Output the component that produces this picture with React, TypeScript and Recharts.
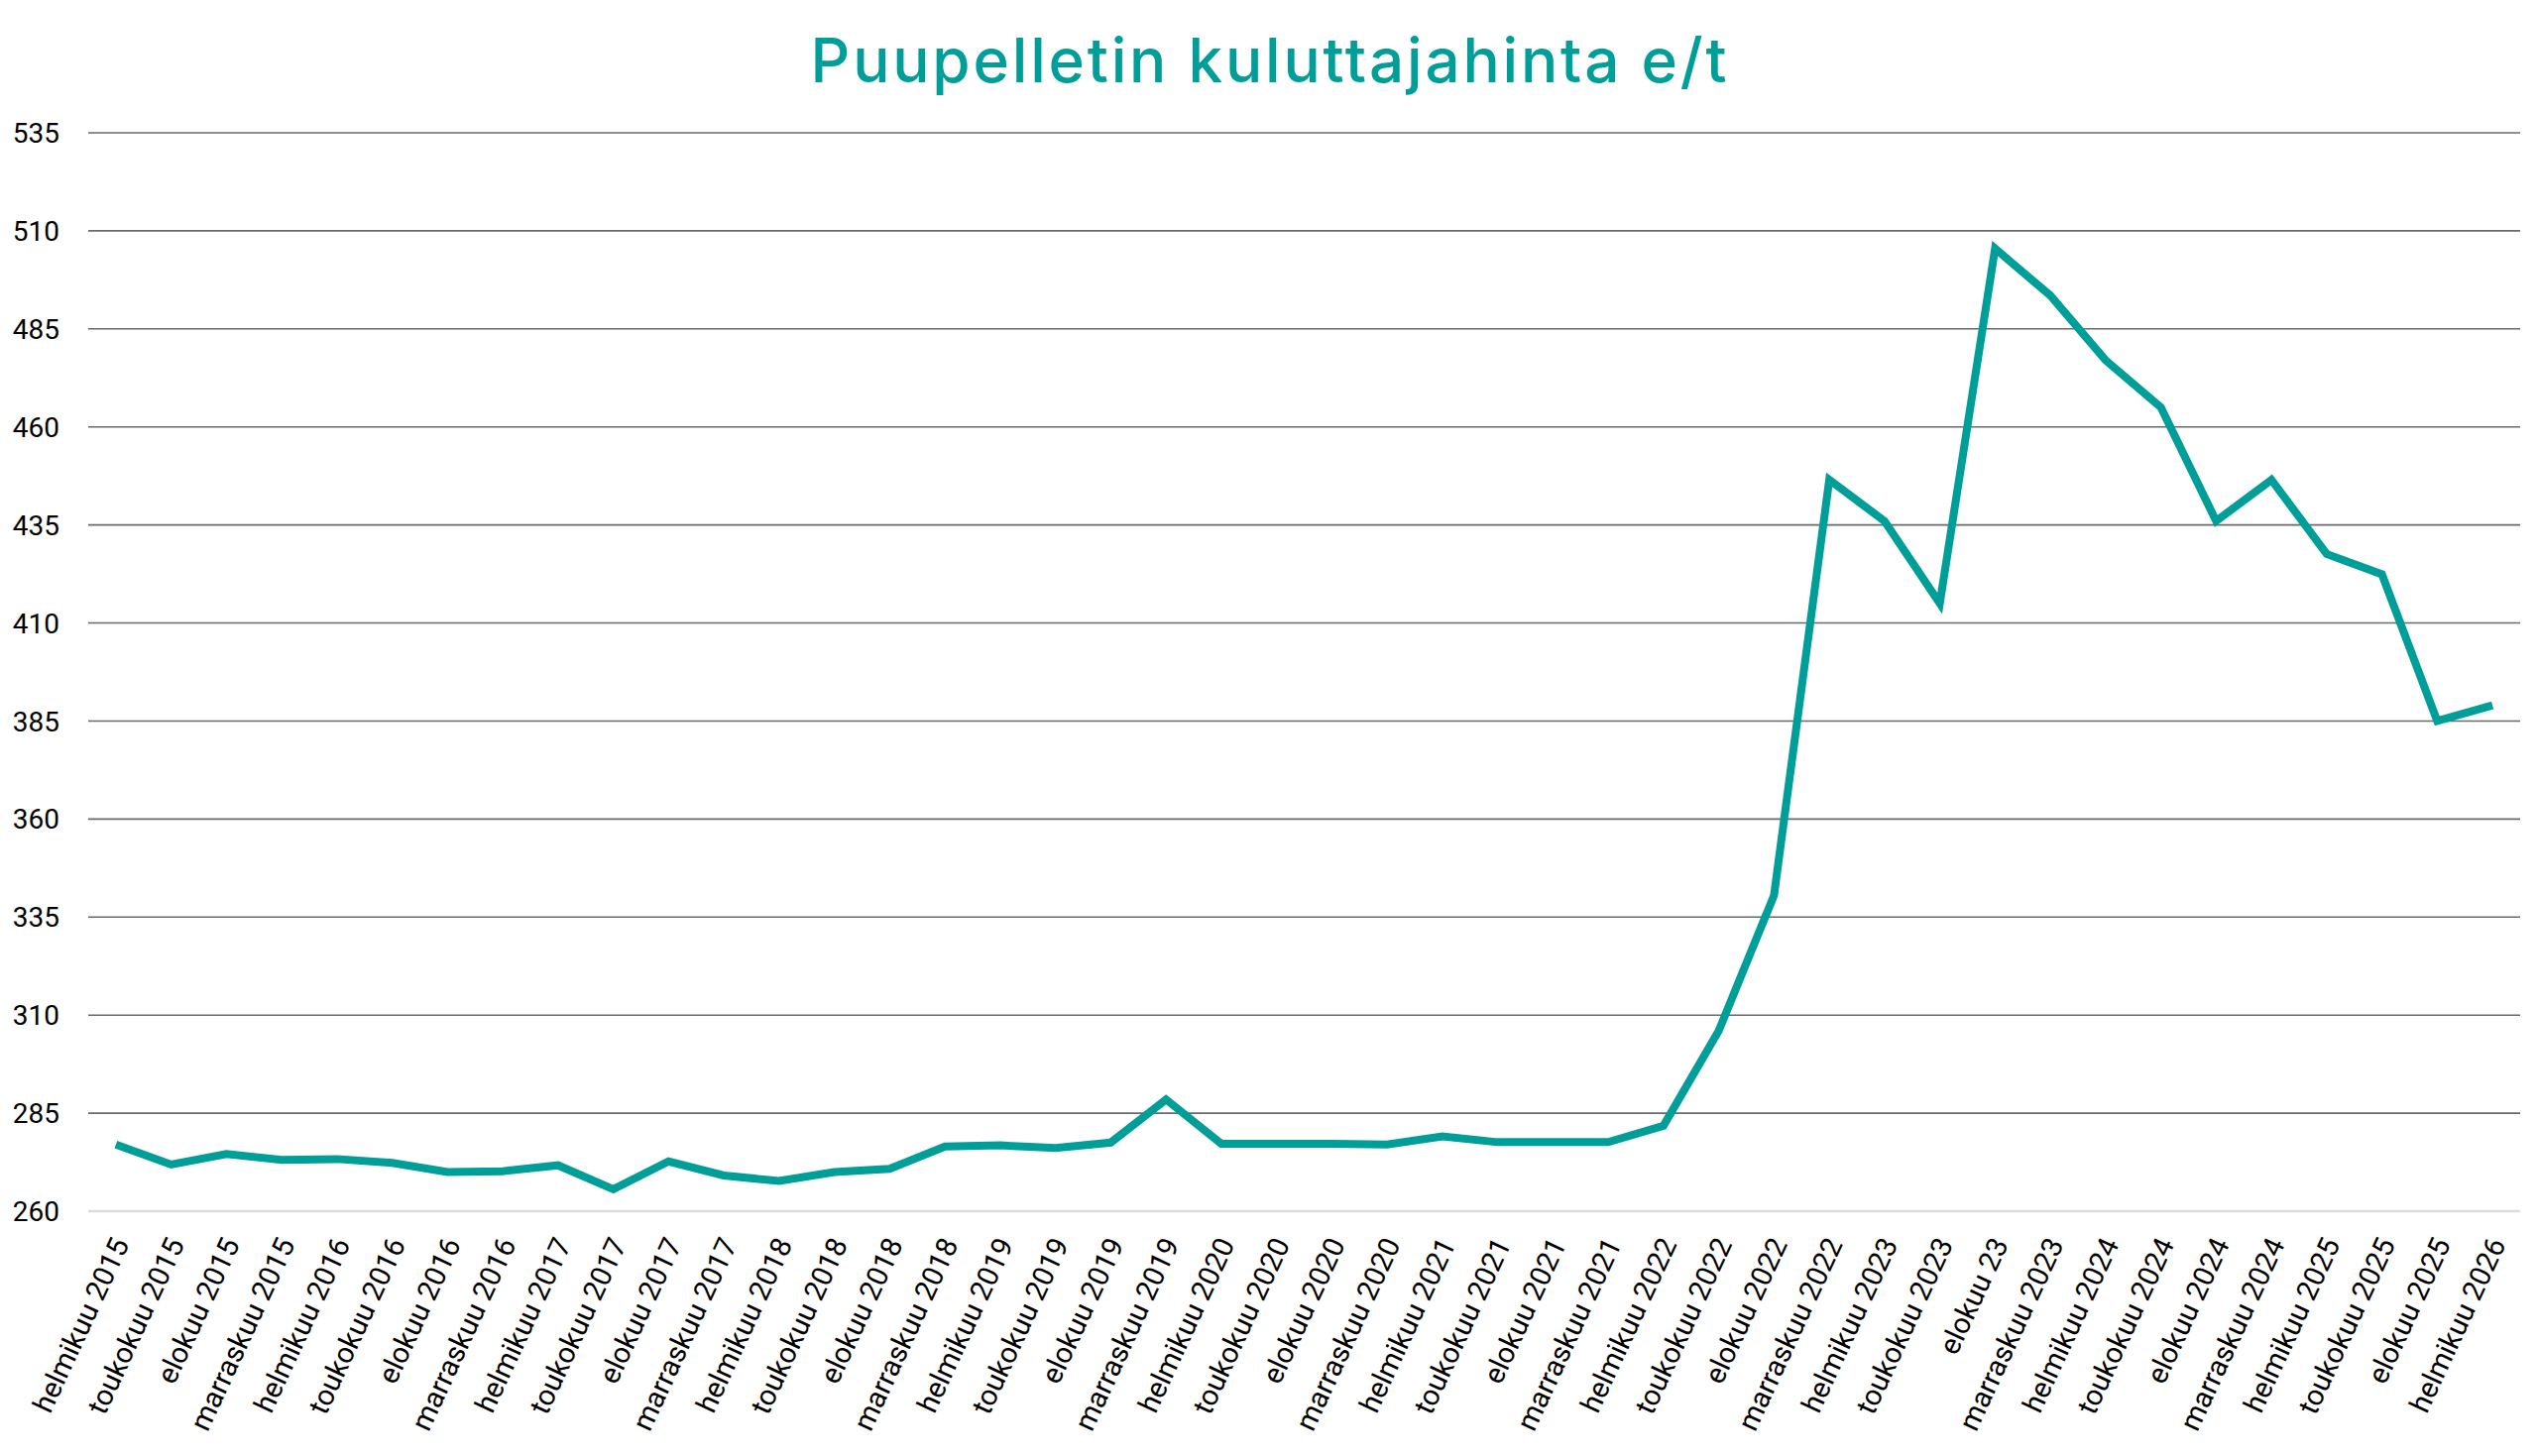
import React from 'react';
import { LineChart, Line, XAxis, YAxis, CartesianGrid } from 'recharts';

const categories: string[] = [
  'helmikuu 2015', 'toukokuu 2015', 'elokuu 2015', 'marraskuu 2015',
  'helmikuu 2016', 'toukokuu 2016', 'elokuu 2016', 'marraskuu 2016',
  'helmikuu 2017', 'toukokuu 2017', 'elokuu 2017', 'marraskuu 2017',
  'helmikuu 2018', 'toukokuu 2018', 'elokuu 2018', 'marraskuu 2018',
  'helmikuu 2019', 'toukokuu 2019', 'elokuu 2019', 'marraskuu 2019',
  'helmikuu 2020', 'toukokuu 2020', 'elokuu 2020', 'marraskuu 2020',
  'helmikuu 2021', 'toukokuu 2021', 'elokuu 2021', 'marraskuu 2021',
  'helmikuu 2022', 'toukokuu 2022', 'elokuu 2022', 'marraskuu 2022',
  'helmikuu 2023', 'toukokuu 2023', 'elokuu 23', 'marraskuu 2023',
  'helmikuu 2024', 'toukokuu 2024', 'elokuu 2024', 'marraskuu 2024',
  'helmikuu 2025', 'toukokuu 2025', 'elokuu 2025', 'helmikuu 2026',
];

const prices: number[] = [
  277.0, 271.9, 274.6, 273.1,
  273.3, 272.3, 270.0, 270.2,
  271.7, 265.6, 272.7, 269.1,
  267.7, 270.0, 270.8, 276.5,
  276.8, 276.1, 277.5, 288.5,
  277.2, 277.2, 277.2, 277.0,
  279.1, 277.6, 277.6, 277.6,
  281.8, 306.0, 340.5, 446.5,
  436.0, 415.0, 505.5, 493.5,
  477.0, 465.0, 436.0, 446.5,
  427.6, 422.4, 385.0, 389.0,
];

const yTicks: number[] = [260, 285, 310, 335, 360, 385, 410, 435, 460, 485, 510, 535];

const title = 'Puupelletin kuluttajahinta e/t';

const data = categories.map((c, i) => ({ name: c, value: prices[i] }));

const TEAL = '#009E98';

const YTick = (props: any) => {
  const { y, payload } = props;
  return (
    <text x={60} y={y} dy="0.36em" textAnchor="end" fontSize={28} fill="#000" fontFamily="Roboto">
      {payload.value}
    </text>
  );
};

const XTick = (props: any) => {
  const { x, payload } = props;
  const tx = x + 14;
  const ty = 1255;
  return (
    <text
      x={tx}
      y={ty}
      textAnchor="end"
      fontSize={29}
      fill="#000"
      fontFamily="Roboto"
      transform={`rotate(-65, ${tx}, ${ty})`}
    >
      {payload.value}
    </text>
  );
};

export default function App() {
  return (
    <div style={{ position: 'relative', width: 2560, height: 1469, margin: -8, background: '#fff' }}>
      <LineChart
        width={2560}
        height={1469}
        data={data}
        margin={{ top: 134, right: 18, left: 0, bottom: 0 }}
      >
        <CartesianGrid vertical={false} stroke="#6a6a6a" strokeWidth={1.6} />
        <XAxis
          dataKey="name"
          interval={0}
          height={247}
          tickLine={false}
          axisLine={{ stroke: '#dcdcdc', strokeWidth: 2.5 }}
          tick={<XTick />}
          padding={{ left: 27.9, right: 27.9 }}
        />
        <YAxis
          width={89}
          domain={[260, 535]}
          ticks={yTicks}
          interval={0}
          axisLine={false}
          tickLine={false}
          tick={<YTick />}
          allowDataOverflow
        />
        <Line
          type="linear"
          dataKey="value"
          stroke={TEAL}
          strokeWidth={8}
          dot={false}
          activeDot={false}
          isAnimationActive={false}
        />
      </LineChart>
      <svg width={2560} height={120} style={{ position: 'absolute', left: 0, top: 0 }}>
        <text
          x={1281}
          y={83}
          textAnchor="middle"
          fontSize={62}
          letterSpacing={2.8}
          fill={TEAL}
          fontFamily="Inter"
          fontWeight={500}
        >
          {title}
        </text>
      </svg>
    </div>
  );
}
